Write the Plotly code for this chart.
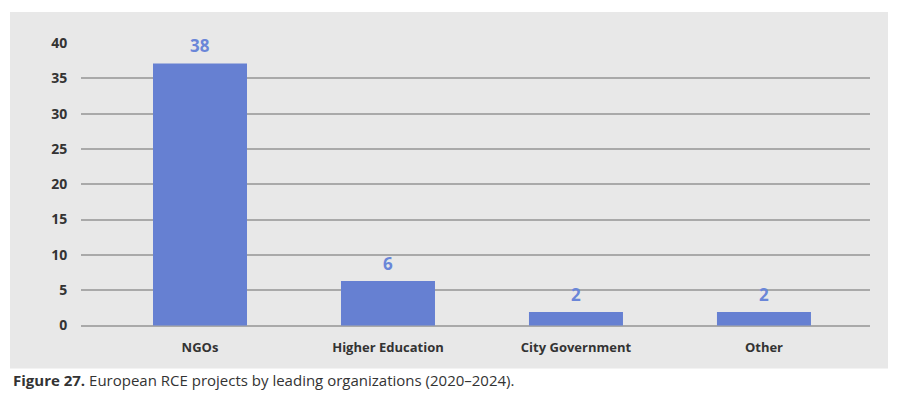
import plotly.graph_objects as go

categories = ["NGOs", "Higher Education", "City Government", "Other"]
# bar heights as drawn in the reference (measured against the gridlines)
bar_heights = [37.1, 6.3, 1.9, 1.9]
# value labels printed above the bars
value_labels = [38, 6, 2, 2]
y_ticks = [0, 5, 10, 15, 20, 25, 30, 35, 40]

BAR = "#6680D2"
LABEL = "#6A86D8"
DARK = "#333333"
PANEL = "#E8E8E8"

W, H = 900, 397
OFF = 8  # page body margin offset
ml, mr, mt = 81 - OFF, 900 - (870 - OFF), 43 - OFF
ymin, ymax = -0.35, 40
ppu = (326 - 43) / 40.0
bottom_px = 326 + (-ymin) * ppu - OFF
mb = H - bottom_px
plot_w = W - ml - mr
plot_h = bottom_px - mt

fig = go.Figure()
fig.add_trace(go.Bar(
    x=list(range(len(categories))), y=bar_heights, width=0.5,
    marker=dict(color=BAR, line=dict(width=0)),
    hoverinfo="skip",
))

for i, (h, lab) in enumerate(zip(bar_heights, value_labels)):
    fig.add_annotation(x=i, y=h, text=f"<b>{lab}</b>", showarrow=False,
                       xref="x", yref="y", yanchor="bottom", yshift=4,
                       font=dict(size=17, color=LABEL, family="Open Sans"))

def px2x(px):
    return (px - OFF - ml) / plot_w

def px2y(py):
    return (bottom_px - (py - OFF)) / plot_h

fig.add_shape(type="rect", xref="paper", yref="paper",
              x0=px2x(10), x1=px2x(888), y0=px2y(369), y1=px2y(12),
              fillcolor=PANEL, line=dict(width=0), layer="below")

fig.add_annotation(xref="paper", yref="paper", x=px2x(11), y=px2y(381),
                   xanchor="left", yanchor="middle", showarrow=False,
                   text="<b>Figure 27.</b> European RCE projects by leading organizations (2020–2024).",
                   font=dict(size=15, color=DARK, family="Open Sans"))

fig.update_layout(
    width=W, height=H,
    margin=dict(l=ml, r=mr, t=mt, b=mb, pad=0),
    paper_bgcolor="white", plot_bgcolor=PANEL,
    showlegend=False,
    font=dict(family="Open Sans", color=DARK),
)
fig.update_xaxes(
    tickmode="array", tickvals=list(range(len(categories))),
    ticktext=[f"<b>{c}</b>" for c in categories],
    range=[-0.633, 3.564], showgrid=False, zeroline=False,
    showline=False, ticks="outside", ticklen=7, tickcolor="rgba(0,0,0,0)",
    tickfont=dict(size=13, color=DARK, family="Open Sans"),
)
fig.update_yaxes(
    range=[ymin, ymax], tickvals=y_ticks,
    ticktext=[f"<b>{t}</b>" for t in y_ticks],
    showgrid=True, gridcolor="#A9A9A9", gridwidth=2, zeroline=False,
    ticks="outside", ticklen=10, tickcolor="rgba(0,0,0,0)",
    tickfont=dict(size=14, color=DARK, family="Open Sans"),
)

fig.write_html("out.html")
